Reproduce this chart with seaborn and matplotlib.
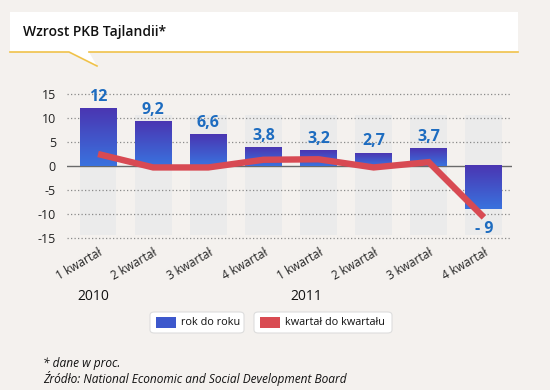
import numpy as np
import pandas as pd
import seaborn as sns
from matplotlib import pyplot as plt
from matplotlib.patches import Rectangle, FancyBboxPatch, Polygon
from matplotlib.lines import Line2D
from matplotlib.colors import LinearSegmentedColormap

quarters = ["1 kwartał", "2 kwartał", "3 kwartał", "4 kwartał",
            "1 kwartał", "2 kwartał", "3 kwartał", "4 kwartał"]
years = ["2010", "2010", "2010", "2010", "2011", "2011", "2011", "2011"]
yoy = [12, 9.2, 6.6, 3.8, 3.2, 2.7, 3.7, -9]
qoq = [2.5, -0.3, -0.3, 1.3, 1.4, -0.3, 0.8, -10.7]
yoy_labels = ["12", "9,2", "6,6", "3,8", "3,2", "2,7", "3,7", "- 9"]
year_ticks = ["2010", "2011"]
y_ticks = [15, 10, 5, 0, -5, -10, -15]

df = pd.DataFrame({"key": [f"{y} {q}" for y, q in zip(years, quarters)],
                   "yoy": yoy, "qoq": qoq})

plt.rcParams["font.family"] = ["Open Sans", "DejaVu Sans"]

bg = "#f4f1ee"
W, H = 550, 390
fig = plt.figure(figsize=(5.5, 3.9), dpi=100, facecolor=bg)
ax = fig.add_axes([67 / W, 1 - 240.4 / H, 445 / W, 151.2 / H])
ax.set_facecolor("none")

# background gray columns
pos = np.arange(len(yoy))
ax.bar(pos, [25.0] * len(pos), bottom=-14.3, width=0.67, color="#ebebeb", zorder=0)

# grid
for t in y_ticks:
    if t == 0:
        ax.axhline(0, color="#6a6a6a", lw=1.0, zorder=1)
    else:
        ax.axhline(t, color="#8a8a8a", lw=0.9, ls=(0, (1, 1.8)), zorder=1)

sns.barplot(data=df, x="key", y="yoy", ax=ax, color="#3f55c8", width=0.67,
            saturation=1, zorder=2)

grad = LinearSegmentedColormap.from_list("g", ["#4a36b2", "#3a72de"])
g = np.linspace(0, 1, 64).reshape(-1, 1)
for p in ax.patches[len(pos):]:
    x0, y0 = p.get_x(), p.get_y()
    w, h = p.get_width(), p.get_height()
    top, bot = max(y0, y0 + h), min(y0, y0 + h)
    ax.imshow(g, extent=[x0, x0 + w, bot, top], cmap=grad, aspect="auto",
              origin="upper", zorder=3)

sns.lineplot(x=pos, y=df["qoq"], ax=ax, color="#d84a53", lw=4.6, sort=False,
             zorder=4, solid_capstyle="butt", solid_joinstyle="miter")

for i, (v, lab) in enumerate(zip(yoy, yoy_labels)):
    if v >= 0:
        ax.text(i, v + 1.6, lab, ha="center", va="baseline", color="#1d6cc0",
                fontsize=11.5, fontweight="bold", clip_on=False)
    else:
        ax.text(i, v - 2.5, lab, ha="center", va="top", color="#1d6cc0",
                fontsize=11.5, fontweight="bold", clip_on=False)

ax.set_xlim(-0.563, 7.51)
ax.set_ylim(-15.5, 16)
ax.set_yticks(y_ticks)
ax.set_yticklabels([str(t) for t in y_ticks], fontsize=9, color="#222222")
ax.set_xticks(pos)
ax.set_xticklabels(quarters, rotation=30, ha="right", rotation_mode="anchor",
                   fontsize=8.5, color="#222222")
ax.tick_params(length=0, pad=8)
ax.tick_params(axis="x", pad=4)
ax.set_xlabel("")
ax.set_ylabel("")
sns.despine(ax=ax, left=True, bottom=True)

# year labels
for x, yr in zip([93, 306], year_ticks):
    fig.text(x / W, 1 - 296 / H, yr, ha="center", va="center", fontsize=10, color="#111111")

# title box
fig.patches.append(Rectangle((10 / W, 1 - 52 / H), 508 / W, 40 / H, transform=fig.transFigure,
                             facecolor="white", edgecolor="none", zorder=0))
fig.patches.append(Polygon([(69 / W, 1 - 52 / H), (89 / W, 1 - 52 / H), (97 / W, 1 - 66 / H)],
                           closed=True, transform=fig.transFigure, facecolor="white",
                           edgecolor="none", zorder=0))
fig.lines.append(Line2D([10 / W, 69 / W, 97 / W], [1 - 52 / H, 1 - 52 / H, 1 - 66 / H],
                        transform=fig.transFigure, color="#f0c24a", lw=1.2))
fig.lines.append(Line2D([89 / W, 518 / W], [1 - 52 / H, 1 - 52 / H],
                        transform=fig.transFigure, color="#f0c24a", lw=1.2))
fig.text(23 / W, 1 - 32 / H, "Wzrost PKB Tajlandii*", fontsize=10, fontweight="semibold",
         color="#111111", va="center", ha="left")

# legend
for (bx, bw), col, lab in zip([(150, 94), (254, 138)], ["#3d58cc", "#d94b52"],
                              ["rok do roku", "kwartał do kwartału"]):
    fig.patches.append(FancyBboxPatch((bx / W, 1 - 333 / H), bw / W, 21 / H,
                                      boxstyle="round,pad=0,rounding_size=0.008",
                                      transform=fig.transFigure, facecolor="white",
                                      edgecolor="#dddddd", lw=0.8))
    fig.patches.append(Rectangle(((bx + 6) / W, 1 - 328 / H), 20 / W, 11 / H,
                                 transform=fig.transFigure, facecolor=col, edgecolor="none"))
    fig.text((bx + 31) / W, 1 - 322.5 / H, lab, fontsize=7.8, color="#111111",
             va="center", ha="left")

fig.text(43 / W, 1 - 364 / H, "* dane w proc.", fontsize=8.6, style="italic",
         color="#111111", va="center")
fig.text(43 / W, 1 - 378 / H, "Źródło: National Economic and Social Development Board",
         fontsize=8.6, style="italic", color="#111111", va="center")

fig.savefig("out.png", dpi=100, facecolor=bg)
